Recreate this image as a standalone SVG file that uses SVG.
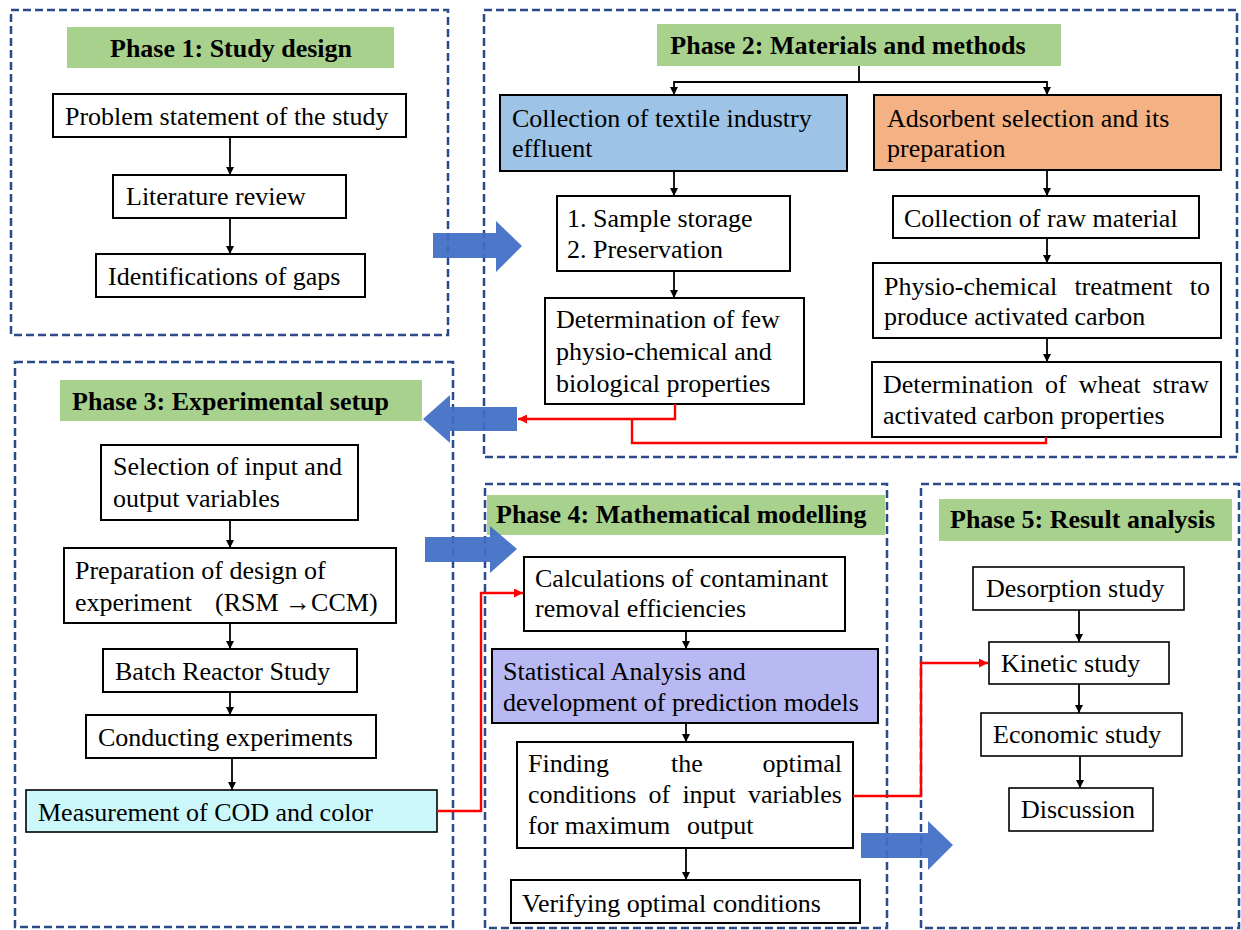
<svg xmlns="http://www.w3.org/2000/svg" width="1241" height="930" viewBox="0 0 1241 930">
  <defs>
    <marker id="ah" viewBox="0 0 10 10" refX="10" refY="5" markerWidth="8" markerHeight="8" markerUnits="userSpaceOnUse" orient="auto">
      <path d="M0,0 L10,5 L0,10 Z" fill="#000"/>
    </marker>
    <marker id="ahRed" viewBox="0 0 10 10" refX="10" refY="5" markerWidth="9" markerHeight="9" markerUnits="userSpaceOnUse" orient="auto">
      <path d="M0,0 L10,5 L0,10 Z" fill="#ff0000"/>
    </marker>
  </defs>
  <style>
    .phase { fill: none; stroke: #2b4a8a; stroke-width: 2.5; stroke-dasharray: 8 4; }
    .title { fill: #a9d18e; }
    .ttl { font-family: "Liberation Serif", "Times New Roman", serif; font-weight: bold; font-size: 26px; fill: #000; }
    .box { fill: #fff; stroke: #000; stroke-width: 2; }
    .thin { stroke-width: 1.6; }
    .txt { font-family: "Liberation Serif", "Times New Roman", serif; font-size: 26px; fill: #000; }
    .flow { fill: none; stroke: #000; stroke-width: 1.8; marker-end: url(#ah); }
    .red { fill: none; stroke: #ff0000; stroke-width: 2.4; }
    .redArr { marker-end: url(#ahRed); }
    .big { fill: #3f6dc5; opacity: 0.93; }
  </style>

  <rect width="1241" height="930" fill="#fff"/>

  <!-- Phase 1: Study design -->
  <g id="phase1">
    <rect class="phase" x="11" y="10" width="437" height="325"/>
    <rect class="title" x="67" y="27" width="327" height="41"/>
    <text class="ttl" x="231" y="57" text-anchor="middle">Phase 1: Study design</text>
  </g>
  <g id="p1-problem">
    <rect class="box" x="53" y="94" width="353" height="43"/>
    <text class="txt" x="65" y="125">Problem statement of the study</text>
  </g>
  <g id="p1-literature">
    <rect class="box" x="113" y="175" width="233" height="43"/>
    <text class="txt" x="126" y="205">Literature review</text>
  </g>
  <g id="p1-gaps">
    <rect class="box" x="96" y="254" width="269" height="43"/>
    <text class="txt" x="108" y="285">Identifications of gaps</text>
  </g>

  <!-- Phase 2: Materials and methods -->
  <g id="phase2">
    <rect class="phase" x="484" y="10" width="753" height="447"/>
    <rect class="title" x="657" y="24" width="404" height="42"/>
    <text class="ttl" x="848" y="54" text-anchor="middle">Phase 2: Materials and methods</text>
  </g>
  <g id="p2-effluent">
    <rect class="box" x="500" y="95" width="347" height="76" style="fill:#9dc3e6"/>
    <text class="txt" x="512" y="127">Collection of textile industry</text>
    <text class="txt" x="512" y="157">effluent</text>
  </g>
  <g id="p2-adsorbent">
    <rect class="box" x="874" y="95" width="347" height="75" style="fill:#f4b183"/>
    <text class="txt" x="887" y="127">Adsorbent selection and its</text>
    <text class="txt" x="887" y="157">preparation</text>
  </g>
  <g id="p2-storage">
    <rect class="box" x="557" y="196" width="233" height="75"/>
    <text class="txt" x="567" y="227">1. Sample storage</text>
    <text class="txt" x="567" y="258">2. Preservation</text>
  </g>
  <g id="p2-properties">
    <rect class="box" x="545" y="298" width="259" height="106"/>
    <text class="txt" x="556" y="328">Determination of few</text>
    <text class="txt" x="556" y="360">physio-chemical and</text>
    <text class="txt" x="556" y="392">biological properties</text>
  </g>
  <g id="p2-raw">
    <rect class="box" x="893" y="196" width="306" height="42"/>
    <text class="txt" x="904" y="227">Collection of raw material</text>
  </g>
  <g id="p2-treatment">
    <rect class="box" x="873" y="263" width="348" height="75"/>
    <text class="txt" x="884" y="295" word-spacing="10.6">Physio-chemical treatment to</text>
    <text class="txt" x="884" y="325">produce activated carbon</text>
  </g>
  <g id="p2-carbon">
    <rect class="box" x="872" y="362" width="349" height="75"/>
    <text class="txt" x="883" y="393" word-spacing="5.4">Determination of wheat straw</text>
    <text class="txt" x="883" y="424">activated carbon properties</text>
  </g>

  <!-- Phase 3: Experimental setup -->
  <g id="phase3">
    <rect class="phase" x="15" y="362" width="438" height="565"/>
    <rect class="title" x="60" y="380" width="362" height="41"/>
    <text class="ttl" x="72" y="410">Phase 3: Experimental setup</text>
  </g>
  <g id="p3-variables">
    <rect class="box" x="101" y="445" width="257" height="75"/>
    <text class="txt" x="113" y="475">Selection of input and</text>
    <text class="txt" x="113" y="507">output variables</text>
  </g>
  <g id="p3-design">
    <rect class="box" x="64" y="548" width="332" height="75"/>
    <text class="txt" x="75" y="579">Preparation of design of</text>
    <text class="txt" x="75" y="611">experiment<tspan x="215">(RSM →CCM)</tspan></text>
  </g>
  <g id="p3-batch">
    <rect class="box" x="103" y="649" width="254" height="43"/>
    <text class="txt" x="115" y="680">Batch Reactor Study</text>
  </g>
  <g id="p3-conducting">
    <rect class="box" x="86" y="715" width="290" height="43"/>
    <text class="txt" x="98" y="746">Conducting experiments</text>
  </g>
  <g id="p3-measurement">
    <rect class="box thin" x="26" y="790" width="411" height="42" style="fill:#ccf8fb"/>
    <text class="txt" x="38" y="821">Measurement of COD and color</text>
  </g>

  <!-- Phase 4: Mathematical modelling -->
  <g id="phase4">
    <rect class="phase" x="485" y="484" width="402" height="444"/>
    <rect class="title" x="487" y="495" width="398" height="40"/>
    <text class="ttl" x="496" y="523">Phase 4: Mathematical modelling</text>
  </g>
  <g id="p4-calculations">
    <rect class="box" x="524" y="557" width="321" height="74"/>
    <text class="txt" x="535" y="587">Calculations of contaminant</text>
    <text class="txt" x="535" y="617">removal efficiencies</text>
  </g>
  <g id="p4-statistics">
    <rect class="box" x="492" y="649" width="386" height="74" style="fill:#b8b8f2"/>
    <text class="txt" x="503" y="680">Statistical Analysis and</text>
    <text class="txt" x="503" y="711">development of prediction models</text>
  </g>
  <g id="p4-optimal">
    <rect class="box" x="517" y="742" width="336" height="106"/>
    <text class="txt" x="528" y="772">Finding</text>
    <text class="txt" x="671" y="772">the</text>
    <text class="txt" x="842" y="772" text-anchor="end">optimal</text>
    <text class="txt" x="528" y="803" word-spacing="5.7">conditions of input variables</text>
    <text class="txt" x="528" y="834">for maximum<tspan x="687">output</tspan></text>
  </g>
  <g id="p4-verifying">
    <rect class="box" x="511" y="880" width="349" height="43"/>
    <text class="txt" x="522" y="912">Verifying optimal conditions</text>
  </g>

  <!-- Phase 5: Result analysis -->
  <g id="phase5">
    <rect class="phase" x="921" y="484" width="318" height="444"/>
    <rect class="title" x="939" y="499" width="293" height="42"/>
    <text class="ttl" x="950" y="528">Phase 5: Result analysis</text>
  </g>
  <g id="p5-desorption">
    <rect class="box thin" x="973" y="567" width="211" height="43"/>
    <text class="txt" x="986" y="597">Desorption study</text>
  </g>
  <g id="p5-kinetic">
    <rect class="box thin" x="989" y="642" width="180" height="42"/>
    <text class="txt" x="1001" y="672">Kinetic study</text>
  </g>
  <g id="p5-economic">
    <rect class="box thin" x="981" y="713" width="201" height="43"/>
    <text class="txt" x="993" y="743">Economic study</text>
  </g>
  <g id="p5-discussion">
    <rect class="box thin" x="1009" y="788" width="144" height="43"/>
    <text class="txt" x="1021" y="818">Discussion</text>
  </g>

  <!-- Connectors -->
  <g id="connectors">
    <!-- block arrows between phases -->
    <polygon class="big" points="433,233 496,233 496,221 522,246 496,272 496,258 433,258"/>
    <polygon class="big" points="517,407 450,407 450,395 423,419 450,443 450,431 517,431"/>
    <polygon class="big" points="425,537 490,537 490,526 517,549 490,573 490,562 425,562"/>
    <polygon class="big" points="861,833 928,833 928,821 953,845 928,870 928,858 861,858"/>

    <!-- phase 1 flow -->
    <line class="flow" x1="230" y1="137" x2="230" y2="175"/>
    <line class="flow" x1="230" y1="218" x2="230" y2="254"/>

    <!-- phase 2 flow -->
    <line x1="859" y1="66" x2="859" y2="82" stroke="#000" stroke-width="1.8"/>
    <polyline class="flow" points="859,82 674,82 674,95"/>
    <polyline class="flow" points="859,82 1047,82 1047,95"/>
    <line class="flow" x1="674" y1="171" x2="674" y2="196"/>
    <line class="flow" x1="674" y1="271" x2="674" y2="298"/>
    <line class="flow" x1="1047" y1="170" x2="1047" y2="196"/>
    <line class="flow" x1="1047" y1="238" x2="1047" y2="263"/>
    <line class="flow" x1="1047" y1="338" x2="1047" y2="362"/>

    <!-- phase 3 flow -->
    <line class="flow" x1="230" y1="520" x2="230" y2="548"/>
    <line class="flow" x1="230" y1="623" x2="230" y2="649"/>
    <line class="flow" x1="230" y1="692" x2="230" y2="715"/>
    <line class="flow" x1="232" y1="758" x2="232" y2="790"/>

    <!-- phase 4 flow -->
    <line class="flow" x1="686" y1="631" x2="686" y2="649"/>
    <line class="flow" x1="686" y1="723" x2="686" y2="742"/>
    <line class="flow" x1="686" y1="848" x2="686" y2="880"/>

    <!-- phase 5 flow -->
    <line class="flow" x1="1079" y1="610" x2="1079" y2="642"/>
    <line class="flow" x1="1079" y1="684" x2="1079" y2="713"/>
    <line class="flow" x1="1080" y1="756" x2="1080" y2="788"/>

    <!-- red links between phases -->
    <polyline class="red redArr" points="675,404 675,419 518,419"/>
    <polyline class="red" points="1046,437 1046,443 632,443 632,419"/>
    <polyline class="red redArr" points="437,811 481,811 481,593 523,593"/>
    <polyline class="red redArr" points="853,796 921,796 921,663 988,663"/>
  </g>
</svg>
